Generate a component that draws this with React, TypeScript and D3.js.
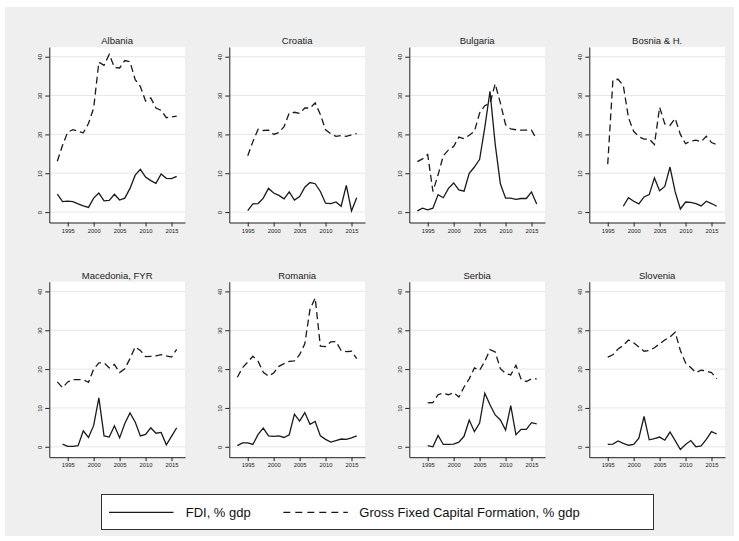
import * as d3 from 'd3'
import { useEffect, useRef } from 'react'

const countries = ['Albania', 'Croatia', 'Bulgaria', 'Bosnia & H.', 'Macedonia, FYR', 'Romania', 'Serbia', 'Slovenia']
const fdiStart = [1993, 1995, 1993, 1998, 1994, 1993, 1995, 1995]
const gfcfStart = [1993, 1995, 1993, 1995, 1993, 1993, 1995, 1995]

const fdiAlbania = [4.6, 2.7, 2.8, 2.7, 2.1, 1.6, 1.2, 3.6, 4.9, 2.9, 3.0, 4.6, 3.1, 3.6, 6.1, 9.5, 11.0, 9.0, 8.1, 7.4, 9.8, 8.7, 8.6, 9.2]
const gfcfAlbania = [13.1, 17.2, 20.6, 21.2, 20.8, 20.4, 22.8, 26.8, 38.6, 37.8, 40.6, 37.2, 37.1, 39.0, 38.7, 34.1, 32.3, 28.6, 29.4, 26.8, 26.2, 24.3, 24.5, 24.7]
const fdiCroatia = [0.4, 2.1, 2.2, 3.6, 6.1, 4.9, 4.3, 3.4, 5.2, 3.1, 4.0, 6.4, 7.6, 7.3, 5.3, 2.3, 2.2, 2.6, 1.5, 6.9, 0.3, 3.7]
const gfcfCroatia = [14.5, 18.2, 21.3, 21.0, 21.1, 20.0, 20.5, 22.0, 25.5, 25.7, 25.4, 26.8, 26.8, 28.1, 25.1, 21.2, 20.2, 19.5, 19.7, 19.5, 19.9, 20.2]
const fdiBulgaria = [0.3, 1.0, 0.6, 1.0, 4.5, 3.7, 6.1, 7.5, 5.7, 5.4, 10.0, 11.6, 13.6, 21.8, 31.1, 17.5, 7.3, 3.6, 3.6, 3.3, 3.5, 3.5, 5.2, 2.1]
const gfcfBulgaria = [13.0, 13.7, 14.8, 5.3, 9.6, 14.5, 16.0, 16.9, 19.3, 18.9, 19.8, 20.8, 25.5, 27.4, 28.0, 33.0, 28.1, 22.5, 21.4, 21.2, 21.1, 21.1, 21.1, 18.7]
const fdiBosnia = [1.5, 3.7, 2.8, 2.1, 3.9, 4.5, 8.8, 5.5, 6.6, 11.6, 5.2, 0.8, 2.6, 2.5, 2.2, 1.6, 2.8, 2.2, 1.5]
const gfcfBosnia = [12.3, 34.0, 34.2, 32.6, 24.3, 20.8, 19.4, 18.8, 18.8, 17.4, 27.0, 22.7, 22.3, 24.1, 20.0, 17.6, 18.3, 18.5, 18.1, 19.5, 17.9, 17.4]
const fdiMacedonia = [0.7, 0.1, 0.1, 0.3, 4.1, 2.4, 5.5, 12.6, 2.8, 2.5, 5.4, 2.3, 6.0, 8.7, 6.4, 2.8, 3.2, 4.9, 3.5, 3.7, 0.5, 2.7, 4.9]
const gfcfMacedonia = [16.7, 15.2, 16.7, 17.3, 17.3, 17.3, 16.6, 20.0, 21.6, 21.6, 20.3, 21.2, 19.1, 20.1, 22.7, 25.7, 24.8, 23.2, 23.3, 23.4, 23.7, 23.4, 23.1, 25.1]
const fdiRomania = [0.3, 1.0, 1.0, 0.6, 3.2, 4.8, 2.8, 2.7, 2.8, 2.4, 3.1, 8.4, 6.6, 8.8, 5.8, 6.5, 2.8, 1.9, 1.2, 1.6, 2.0, 1.9, 2.3, 2.8]
const gfcfRomania = [17.9, 20.4, 21.8, 23.3, 22.0, 19.2, 18.2, 19.0, 20.7, 21.4, 22.0, 22.1, 23.7, 26.5, 35.4, 38.3, 25.9, 25.8, 27.0, 27.1, 24.8, 24.5, 24.6, 22.7]
const fdiSerbia = [0.3, 0.0, 2.9, 0.6, 0.6, 0.7, 1.2, 2.7, 6.9, 3.9, 6.1, 13.8, 10.8, 8.2, 6.9, 4.3, 10.6, 3.1, 4.5, 4.5, 6.2, 5.9]
const gfcfSerbia = [11.3, 11.4, 13.4, 13.8, 13.4, 13.9, 12.8, 15.4, 17.5, 20.3, 19.7, 22.0, 25.0, 24.4, 20.1, 18.9, 18.5, 21.0, 17.4, 16.8, 17.5, 17.5]
const fdiSlovenia = [0.6, 0.7, 1.5, 0.9, 0.4, 0.6, 2.2, 7.8, 1.8, 2.1, 2.5, 1.7, 3.8, 1.6, -0.7, 0.6, 1.6, 0.0, 0.2, 1.9, 3.9, 3.3]
const gfcfSlovenia = [23.1, 23.7, 25.2, 26.1, 27.5, 26.8, 25.7, 24.6, 24.8, 25.5, 26.5, 27.5, 28.3, 29.5, 24.8, 21.6, 20.4, 19.1, 19.7, 19.5, 19.1, 17.5]

const fdiSeries = [fdiAlbania, fdiCroatia, fdiBulgaria, fdiBosnia, fdiMacedonia, fdiRomania, fdiSerbia, fdiSlovenia]
const gfcfSeries = [gfcfAlbania, gfcfCroatia, gfcfBulgaria, gfcfBosnia, gfcfMacedonia, gfcfRomania, gfcfSerbia, gfcfSlovenia]

const yearTicks = [1995, 2000, 2005, 2010, 2015]
const valueTicks = [0, 10, 20, 30, 40]
const legendLabels = ['FDI, % gdp', 'Gross Fixed Capital Formation, % gdp']

export default function App() {
    const svgRef = useRef<SVGSVGElement>(null)
    const width = 739
    const height = 541

    useEffect(() => {
        if (!svgRef.current) return
        const svg = d3.select(svgRef.current)
        svg.selectAll('*').remove()

        const font = '"Liberation Sans", Arial, Helvetica, sans-serif'

        // grey graph region
        svg.append('rect')
            .attr('x', 5).attr('y', 7)
            .attr('width', 729).attr('height', 529)
            .attr('fill', '#efefef')

        const colLeft = [49.3, 229.3, 409.3, 589.3]
        const rowTop = [47, 281.7]
        const plotW = 135.7
        const plotH = 175.5

        const x = d3.scaleLinear().domain([1991.45, 2017.6]).range([0, plotW])
        const y = d3.scaleLinear().domain([-2.68, 42.5]).range([plotH, 0])

        const line = d3.line<[number, number]>()
            .x((d) => x(d[0]))
            .y((d) => y(d[1]))

        countries.forEach((name, i) => {
            const g = svg.append('g')
                .attr('transform', `translate(${colLeft[i % 4]},${rowTop[Math.floor(i / 4)]})`)

            g.append('rect')
                .attr('width', plotW).attr('height', plotH)
                .attr('fill', '#fff')

            // grid lines
            valueTicks.forEach((v) => {
                g.append('line')
                    .attr('x1', 0).attr('x2', plotW)
                    .attr('y1', y(v)).attr('y2', y(v))
                    .attr('stroke', '#e6e6e6')
                    .attr('stroke-width', 1)
            })

            // title
            g.append('text')
                .attr('x', plotW / 2)
                .attr('y', -3)
                .attr('text-anchor', 'middle')
                .attr('font-family', font)
                .attr('font-size', 9.5)
                .attr('font-weight', 'normal')
                .attr('fill', '#222')
                .text(name)

            // x axis
            const xAxis = g.append('g')
                .attr('transform', `translate(0,${plotH})`)
                .call(d3.axisBottom(x).tickValues(yearTicks).tickFormat(d3.format('d')).tickSize(4).tickPadding(2).tickSizeOuter(0))
            xAxis.select('.domain').attr('stroke', '#222')
            xAxis.selectAll('.tick line').attr('stroke', '#222')
            xAxis.selectAll('.tick text')
                .attr('font-family', font)
                .attr('font-size', 5.8)
                .attr('fill', '#222')

            // y axis with rotated labels
            const yAxis = g.append('g')
                .call(d3.axisLeft(y).tickValues(valueTicks).tickSize(4).tickPadding(0).tickSizeOuter(0))
            yAxis.select('.domain').attr('stroke', '#222')
            yAxis.selectAll('.tick line').attr('stroke', '#222')
            yAxis.selectAll('.tick text')
                .attr('x', null)
                .attr('dy', null)
                .attr('transform', 'translate(-7,0) rotate(-90)')
                .attr('text-anchor', 'middle')
                .attr('font-family', font)
                .attr('font-size', 5.8)
                .attr('fill', '#222')

            const fdiPts = fdiSeries[i].map((v, k) => [fdiStart[i] + k, v] as [number, number])
            const gfcfPts = gfcfSeries[i].map((v, k) => [gfcfStart[i] + k, v] as [number, number])

            g.append('path')
                .attr('d', line(gfcfPts))
                .attr('fill', 'none')
                .attr('stroke', '#1a1a1a')
                .attr('stroke-width', 1.3)
                .attr('stroke-dasharray', '7,4')

            g.append('path')
                .attr('d', line(fdiPts))
                .attr('fill', 'none')
                .attr('stroke', '#1a1a1a')
                .attr('stroke-width', 1.3)
        })

        // legend
        const legend = svg.append('g')
        legend.append('rect')
            .attr('x', 101.5).attr('y', 494.5)
            .attr('width', 552).attr('height', 35)
            .attr('fill', '#fff')
            .attr('stroke', '#333')
            .attr('stroke-width', 1)

        const keyX = [109, 283.3]
        const textX = [185.7, 359.3]
        legendLabels.forEach((label, i) => {
            legend.append('line')
                .attr('x1', keyX[i]).attr('x2', keyX[i] + 64.5)
                .attr('y1', 512.3).attr('y2', 512.3)
                .attr('stroke', '#1a1a1a')
                .attr('stroke-width', 1.3)
                .attr('stroke-dasharray', i === 1 ? '7,5' : null)
            legend.append('text')
                .attr('x', textX[i])
                .attr('y', 517)
                .attr('font-family', font)
                .attr('font-size', 13)
                .attr('fill', '#111')
                .text(label)
        })
    }, [])

    return (
        <svg
            ref={svgRef}
            width={width}
            height={height}
            style={{ position: 'absolute', left: 0, top: 0, background: '#fff' }}
        />
    )
}
